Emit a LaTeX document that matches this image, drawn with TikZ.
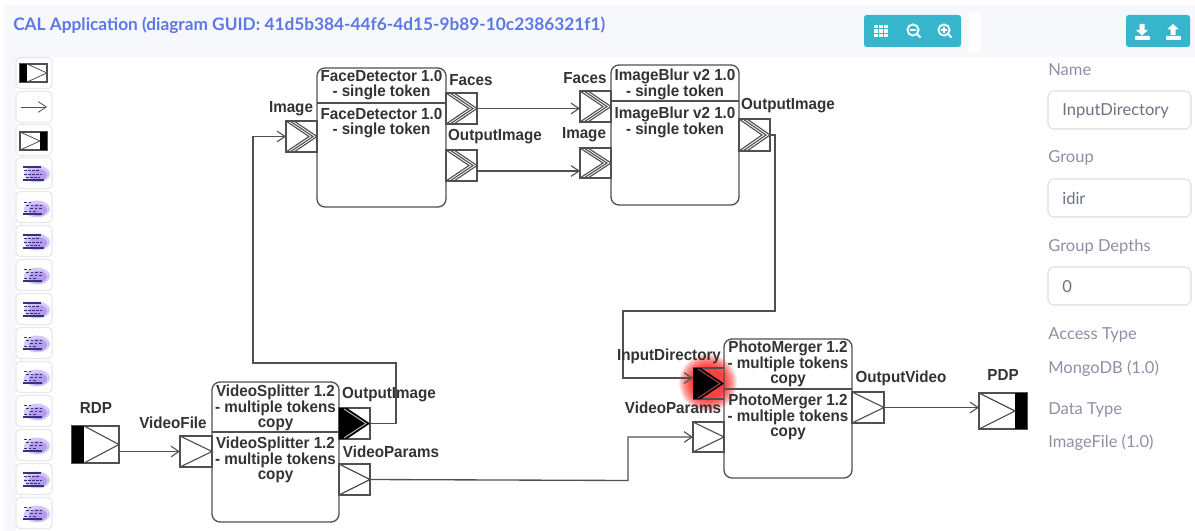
\documentclass[tikz,border=0pt]{standalone}
\usepackage{fontspec}
\usetikzlibrary{arrows.meta,calc}
\setmainfont{Liberation Sans}
\newfontfamily\lab[FakeStretch=0.95]{Liberation Sans}
\newfontfamily\ui{Lato}
\definecolor{inkc}{HTML}{505050}
\definecolor{titlec}{HTML}{5B78E6}
\definecolor{teal}{HTML}{35B6CC}
\definecolor{greytxt}{HTML}{8D91A6}
\definecolor{valtxt}{HTML}{6E7285}
\definecolor{bordc}{HTML}{DADCE6}
\definecolor{headc}{HTML}{F7F8FC}
\definecolor{blobc}{HTML}{AE92EC}
\definecolor{thumbc}{HTML}{34347E}
\tikzset{
  x=0.75pt,y=-0.75pt,
  ln/.style={draw=inkc,line width=1pt},
  conn/.style={ln,-{Straight Barb[length=6pt,width=8pt,line width=0.8pt]}},
  bx/.style={ln,rectangle,rounded corners=6pt,inner sep=0pt,outer sep=0pt},
  portbox/.style={ln,rectangle,fill=white,inner sep=0pt,outer sep=0pt},
  lbl/.style={font=\lab\bfseries\fontsize{12}{12}\selectfont,text=black!80,inner sep=0pt},
  ttl/.style={font=\lab\bfseries\fontsize{12}{10.8}\selectfont,text=black!80,inner sep=0pt,align=center,anchor=north},
  uilab/.style={font=\ui\fontsize{12.4}{14}\selectfont,text=greytxt,anchor=west,inner sep=0pt},
  uival/.style={font=\ui\fontsize{12.4}{14}\selectfont,text=valtxt,anchor=west,inner sep=0pt},
  field/.style={draw=bordc,line width=0.8pt,rounded corners=4.5pt,fill=white},
  tbtn/.style={draw=black!9,line width=0.8pt,rounded corners=3pt,fill=white},
  tealbtn/.style={fill=teal,rounded corners=2pt},
  icon/.style={draw=white,line width=1.4pt},
  chevl/.style={draw=inkc,line width=0.85pt},
}
% rectangle node from corners
\newcommand{\portrect}[6][]{\node[portbox,#1,minimum width={(#4-#2)*0.75pt},minimum height={(#5-#3)*0.75pt}] (#6) at ({(#2+#4)/2},{(#3+#5)/2}) {};}
\newcommand{\chevS}[1]{\draw[chevl] (#1.north west) -- (#1.east) -- (#1.south west);}
\newcommand{\chevT}[1]{%
  \draw[chevl] ($(#1.north west)+(8,0)$) -- (#1.east) -- ($(#1.south west)+(8,0)$);
  \draw[chevl] ($(#1.north west)+(4,0)$) -- ($(#1.east)+(-4,0)$) -- ($(#1.south west)+(4,0)$);
  \draw[chevl] (#1.north west) -- ($(#1.east)+(-8,0)$) -- (#1.south west);}
\newcommand{\chevA}[2]{%
  \fill[black] (#1.north west) -- ($(#1.north west)+(8,0)$) -- (#1.east) -- ($(#1.south west)+(8,0)$) -- (#1.south west) -- cycle;
  \draw[#2,line width=0.7pt] ($(#1.north west)+(5,1)$) -- ($(#1.east)+(-4,0)$) -- ($(#1.south west)+(5,-1)$);}
\newcommand{\thumbA}[1]{%
  \fill[blobc,opacity=.5] (37,#1+1) ellipse (13 and 8.5);
  \fill[blobc,opacity=.8] (38,#1+2) ellipse (9 and 6);
  \draw[thumbc,line width=.9pt] (23,#1-6)--(41,#1-6) (23,#1+7)--(44,#1+7);
  \draw[thumbc,line width=.7pt,dashed,dash pattern=on 2pt off 1pt] (24,#1-3)--(40,#1-3) (24,#1+1)--(42,#1+1) (26,#1+4)--(40,#1+4);}
\newcommand{\thumbB}[1]{%
  \fill[blobc,opacity=.5] (37,#1+1) ellipse (13 and 8.5);
  \fill[blobc,opacity=.8] (38,#1+2) ellipse (9 and 6);
  \draw[thumbc,line width=.9pt] (23,#1+6)--(42,#1+6);
  \draw[thumbc,line width=.7pt,dash pattern=on 2pt off 1.5pt] (24,#1-6)--(32,#1-6) (26,#1-3)--(42,#1-3) (30,#1)--(42,#1) (24,#1+3)--(38,#1+3);}
\begin{document}
\begin{tikzpicture}
\useasboundingbox (0,0) rectangle (1195,531);
\fill[white] (0,0) rectangle (1195,531);
% page chrome
\fill[headc] (4,5) rectangle (1195,57);
\fill[headc] (4,57) rectangle (16,531);
\fill[white] (969,13) rectangle (981,53);
\node[font=\ui\bfseries\fontsize{12.95}{14}\selectfont,text=titlec,anchor=west,inner sep=0pt] (title) at (13,25) {CAL Application (diagram GUID: 41d5b384-44f6-4d15-9b89-10c2386321f1)};
% top buttons
\fill[tealbtn] (864,15) rectangle (961,47);
\fill[tealbtn] (1126,15) rectangle (1190,47);
\foreach \i in {0,1,2}\foreach \j in {0,1,2}{\fill[white] ({874+\i*5},{25+\j*4.4}) rectangle ++(3.9,3.4);}
\draw[icon] (913,30) circle (4.2pt) (917.5,34.5)--(920.5,37.5) (910,30)--(916,30);
\draw[icon] (944,30) circle (4.2pt) (948.5,34.5)--(951.5,37.5) (941,30)--(947,30) (944,27)--(944,33);
\fill[white] (1139.5,24)--(1144.5,24)--(1144.5,30)--(1148,30)--(1142,35.5)--(1136,30)--(1139.5,30)--cycle;
\fill[white,rounded corners=.6pt] (1135,36) rectangle (1150,40);
\fill[white] (1170.5,35)--(1175.5,35)--(1175.5,29.5)--(1179,29.5)--(1173,24)--(1167,29.5)--(1170.5,29.5)--cycle;
\fill[white,rounded corners=.6pt] (1166,36) rectangle (1181,40);
% left palette
\foreach \y in {73,107,140,173,207,241,275,309,343,377,411,445,479,513}{
  \draw[tbtn] (16,\y-15.5) rectangle (52,\y+15.5);}
\draw[ln] (20,64) rectangle (47,82); \fill[black] (20,64) rectangle (27,82);
\draw[ln,line width=.6pt] (27,64)--(47,73)--(27,82);
\draw[ln,-{Straight Barb[length=6pt,width=8pt]},line width=.6pt] (21,107)--(47,107);
\draw[ln] (20,132) rectangle (47,150); \fill[black] (40,132) rectangle (47,150);
\draw[ln,line width=.6pt] (20,132)--(40,141)--(20,150);
\thumbA{173}\thumbB{208}\thumbA{241}\thumbB{275}\thumbA{309}\thumbB{343}\thumbB{377}\thumbB{411}\thumbB{445}\thumbA{479}\thumbB{513}
% right panel
\node[uilab] (nName) at (1048,70) {Name};
\draw[field] (1048,91) rectangle (1191,129);
\node[uival] (vName) at (1062,110.5) {InputDirectory};
\node[uilab] (nGroup) at (1048,158) {Group};
\draw[field] (1048,179) rectangle (1191,217);
\node[uival] (vGroup) at (1062,198.5) {idir};
\node[uilab] (nDepth) at (1048,246.5) {Group Depths};
\draw[field] (1048,267) rectangle (1191,305);
\node[uival] (vDepth) at (1062,286.5) {0};
\node[uilab] (nAccess) at (1048,335) {Access Type};
\node[uilab] (vAccess) at (1048,369) {MongoDB (1.0)};
\node[uilab] (nData) at (1048,410) {Data Type};
\node[uilab] (vData) at (1048,443) {ImageFile (1.0)};
% glow
\foreach \r in {29,28,27,26,25,24,23,22,21,20,19,18,17,16}{\fill[red,opacity=.09] (708,383) circle (\r*0.75pt);}
% boxes
\node[bx,minimum width={129*0.75pt},minimum height={139*0.75pt}] (fd) at (381.5,137.5) {};
\node[bx,minimum width={128*0.75pt},minimum height={140*0.75pt}] (ib) at (675,135) {};
\node[bx,minimum width={127*0.75pt},minimum height={140*0.75pt}] (vs) at (275.5,452) {};
\node[bx,minimum width={128*0.75pt},minimum height={139*0.75pt}] (pm) at (788,408.5) {};
\draw[ln] (fd.west |- 0,103) -- (fd.east |- 0,103);
\draw[ln] (ib.west |- 0,101) -- (ib.east |- 0,101);
\draw[ln] (vs.west |- 0,432) -- (vs.east |- 0,432);
\draw[ln] (pm.west |- 0,389) -- (pm.east |- 0,389);
\node[ttl] (fdA) at (381.5,70.5) {FaceDetector 1.0\\- single token};
\node[ttl] (fdB) at (381.5,108.5) {FaceDetector 1.0\\- single token};
\node[ttl] (ibA) at (675,68.5) {ImageBlur v2 1.0\\- single token};
\node[ttl] (ibB) at (675,106.5) {ImageBlur v2 1.0\\- single token};
\node[ttl] (vsA) at (275.5,384.5) {VideoSplitter 1.2\\- multiple tokens\\copy};
\node[ttl] (vsB) at (275.5,436.5) {VideoSplitter 1.2\\- multiple tokens\\copy};
\node[ttl] (pmA) at (788,340.5) {PhotoMerger 1.2\\- multiple tokens\\copy};
\node[ttl] (pmB) at (788,393.5) {PhotoMerger 1.2\\- multiple tokens\\copy};
% ports
\portrect{286}{121}{317}{152}{pImg}\chevT{pImg}
\portrect{446}{93}{477}{124}{pFaces}\chevT{pFaces}
\portrect{446}{150}{477}{181}{pOut}\chevT{pOut}
\portrect{580}{91}{611}{122}{qFaces}\chevT{qFaces}
\portrect{580}{148}{611}{178}{qImg}\chevT{qImg}
\portrect{739}{119}{770}{151}{qOut}\chevT{qOut}
\portrect{180}{436}{212}{467}{vFile}\chevS{vFile}
\portrect{339}{408}{370}{439}{vOut}\chevA{vOut}{white!75!black}
\portrect{339}{464}{370}{495}{vPar}\chevS{vPar}
\node[draw=none,fill=none,minimum width={31*0.75pt},minimum height={31*0.75pt},inner sep=0pt,outer sep=0pt] (mIn) at (708.5,383.5) {};
\draw[ln] (mIn.north west) -- (mIn.north east) (mIn.south west) -- (mIn.south east);
\chevA{mIn}{red!45!gray}
\portrect{693}{422}{724}{452}{mPar}\chevS{mPar}
\portrect{852}{392}{884}{423}{mOut}\chevS{mOut}
\portrect{72}{426}{119}{463}{rdp}
\fill[black] (rdp.north west) rectangle (84,463);
\draw[chevl] (84,426) -- (rdp.east) -- (84,463);
\portrect{979}{393}{1027}{429}{pdp}
\fill[black] (1015,393) rectangle (pdp.south east);
\draw[chevl] (pdp.north west) -- (1015,411) -- (pdp.south west);
% bends and off-centre connector ends
\coordinate (b1) at (396,423.5);
\coordinate (b2) at (396,363);
\coordinate (b3) at (253,363);
\coordinate (b4) at (253,136.5);
\coordinate (c1) at (477,171);
\coordinate (c2) at (580,171);
\coordinate (d1) at (775,135);
\coordinate (d2) at (775,311);
\coordinate (d3) at (623,311);
\coordinate (d4) at (623,378);
\coordinate (d5) at (693,378);
\coordinate (e1) at (628,480.5);
\coordinate (e2) at (628,437);
% connectors
\draw[conn] (rdp.east |- vFile.west) -- (vFile.west);
\draw[conn] (vOut.east) -- (b1) -- (b2) -- (b3) -- (b4) -- (pImg.west);
\draw[conn] (pFaces.east) -- (qFaces.west |- pFaces.east);
\draw[conn] (c1) -- (c2);
\draw[conn] (qOut.east) -- (d1) -- (d2) -- (d3) -- (d4) -- (d5);
\draw[conn] (vPar.east) -- (e1) -- (e2) -- (mPar.west);
\draw[conn] (mOut.east) -- (pdp.west |- mOut.east);
% labels
\node[lbl] (lImg) at (291,108.5) {Image};
\node[lbl] (lFaces) at (471,80.5) {Faces};
\node[lbl] (lOut) at (495,136.5) {OutputImage};
\node[lbl] (lF2) at (585,78.5) {Faces};
\node[lbl] (lI2) at (584,134.5) {Image};
\node[lbl] (lO2) at (788,105.5) {OutputImage};
\node[lbl] (lRdp) at (96,407.5) {RDP};
\node[lbl] (lVF) at (173,422.5) {VideoFile};
\node[lbl] (lVO) at (389,394.5) {OutputImage};
\node[lbl] (lVP) at (391,451.5) {VideoParams};
\node[lbl] (lID) at (669,356.5) {InputDirectory};
\node[lbl] (lMP) at (673,407.5) {VideoParams};
\node[lbl] (lOV) at (901,378.5) {OutputVideo};
\node[lbl] (lPdp) at (1003,374.5) {PDP};
\end{tikzpicture}
\end{document}
